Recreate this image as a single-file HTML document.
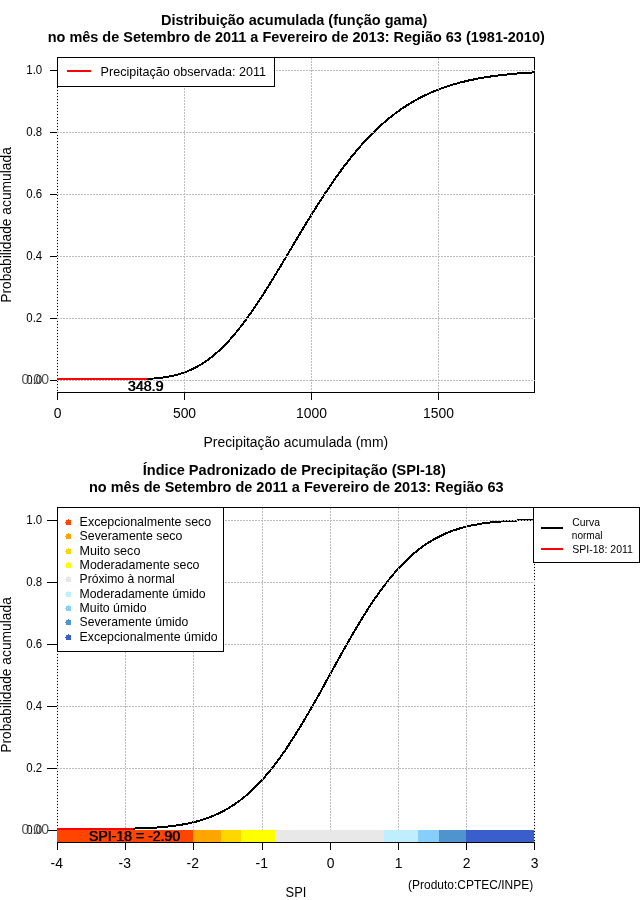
<!DOCTYPE html>
<html><head><meta charset="utf-8"><title>SPI</title>
<style>html,body{margin:0;padding:0;background:#fff}svg{display:block;will-change:transform}text{font-family:"Liberation Sans",sans-serif}</style></head>
<body>
<svg width="640" height="900" viewBox="0 0 640 900" shape-rendering="crispEdges" font-family="'Liberation Sans', sans-serif">
<rect width="640" height="900" fill="#fff"/>
<rect x="57.5" y="57.5" width="477" height="335" fill="none" stroke="#000" stroke-width="1"/>
<polyline points="146.3,379.0 148.7,378.9 151.1,378.7 153.6,378.5 156.0,378.3 158.5,378.1 160.9,377.8 163.4,377.5 165.8,377.1 168.2,376.7 170.7,376.2 173.1,375.7 175.6,375.1 178.0,374.4 180.4,373.7 182.9,372.9 185.3,372.1 187.8,371.1 190.2,370.1 192.7,369.0 195.1,367.7 197.5,366.4 200.0,365.1 202.4,363.6 204.9,362.0 207.3,360.3 209.7,358.5 212.2,356.6 214.6,354.6 217.1,352.4 219.5,350.2 222.0,347.9 224.4,345.5 226.8,342.9 229.3,340.3 231.7,337.6 234.2,334.7 236.6,331.8 239.0,328.8 241.5,325.6 243.9,322.4 246.4,319.1 248.8,315.7 251.3,312.3 253.7,308.7 256.1,305.1 258.6,301.5 261.0,297.7 263.5,293.9 265.9,290.1 268.3,286.2 270.8,282.2 273.2,278.3 275.7,274.3 278.1,270.2 280.6,266.2 283.0,262.1 285.4,258.0 287.9,253.9 290.3,249.8 292.8,245.7 295.2,241.6 297.6,237.5 300.1,233.4 302.5,229.4 305.0,225.3 307.4,221.3 309.9,217.3 312.3,213.4 314.7,209.5 317.2,205.6 319.6,201.8 322.1,198.0 324.5,194.3 327.0,190.6 329.4,187.0 331.8,183.4 334.3,179.9 336.7,176.4 339.2,173.0 341.6,169.7 344.0,166.4 346.5,163.2 348.9,160.1 351.4,157.0 353.8,154.0 356.3,151.1 358.7,148.2 361.1,145.4 363.6,142.7 366.0,140.0 368.5,137.5 370.9,134.9 373.3,132.5 375.8,130.1 378.2,127.8 380.7,125.5 383.1,123.4 385.6,121.2 388.0,119.2 390.4,117.2 392.9,115.3 395.3,113.4 397.8,111.6 400.2,109.9 402.6,108.2 405.1,106.6 407.5,105.0 410.0,103.5 412.4,102.0 414.9,100.6 417.3,99.3 419.7,98.0 422.2,96.7 424.6,95.5 427.1,94.4 429.5,93.2 431.9,92.2 434.4,91.1 436.8,90.2 439.3,89.2 441.7,88.3 444.2,87.4 446.6,86.6 449.0,85.8 451.5,85.0 453.9,84.3 456.4,83.6 458.8,82.9 461.2,82.3 463.7,81.7 466.1,81.1 468.6,80.5 471.0,80.0 473.5,79.5 475.9,79.0 478.3,78.5 480.8,78.1 483.2,77.7 485.7,77.3 488.1,76.9 490.5,76.5 493.0,76.2 495.4,75.9 497.9,75.5 500.3,75.2 502.8,75.0 505.2,74.7 507.6,74.4 510.1,74.2 512.5,74.0 515.0,73.7 517.4,73.5 519.8,73.3 522.3,73.2 524.7,73.0 527.2,72.8 529.6,72.7 532.1,72.5 534.5,72.4" fill="none" stroke="#000" stroke-width="2" stroke-linejoin="round"/>
<line x1="57" x2="535" y1="70.5" y2="70.5" stroke="#bdbdbd" stroke-width="1" stroke-dasharray="2 1"/>
<line x1="57" x2="535" y1="132.5" y2="132.5" stroke="#bdbdbd" stroke-width="1" stroke-dasharray="2 1"/>
<line x1="57" x2="535" y1="194.5" y2="194.5" stroke="#bdbdbd" stroke-width="1" stroke-dasharray="2 1"/>
<line x1="57" x2="535" y1="256.5" y2="256.5" stroke="#bdbdbd" stroke-width="1" stroke-dasharray="2 1"/>
<line x1="57" x2="535" y1="318.5" y2="318.5" stroke="#bdbdbd" stroke-width="1" stroke-dasharray="2 1"/>
<line x1="57" x2="535" y1="380.5" y2="380.5" stroke="#bdbdbd" stroke-width="1" stroke-dasharray="2 1"/>
<line x1="57.5" x2="57.5" y1="58" y2="392" stroke="#e8e8e8" stroke-width="1" stroke-dasharray="2 1"/>
<line x1="184.5" x2="184.5" y1="58" y2="392" stroke="#bdbdbd" stroke-width="1" stroke-dasharray="2 1"/>
<line x1="311.5" x2="311.5" y1="58" y2="392" stroke="#bdbdbd" stroke-width="1" stroke-dasharray="2 1"/>
<line x1="438.5" x2="438.5" y1="58" y2="392" stroke="#bdbdbd" stroke-width="1" stroke-dasharray="2 1"/>
<rect x="50" y="70" width="7" height="1" fill="#000"/>
<rect x="50" y="132" width="7" height="1" fill="#000"/>
<rect x="50" y="194" width="7" height="1" fill="#000"/>
<rect x="50" y="256" width="7" height="1" fill="#000"/>
<rect x="50" y="318" width="7" height="1" fill="#000"/>
<rect x="50" y="380" width="7" height="1" fill="#000"/>
<rect x="57" y="392" width="1" height="8" fill="#000"/>
<rect x="184" y="392" width="1" height="8" fill="#000"/>
<rect x="311" y="392" width="1" height="8" fill="#000"/>
<rect x="438" y="392" width="1" height="8" fill="#000"/>
<text x="26.30" y="74.40" font-size="12.6" font-weight="normal" fill="#000" textLength="15.90" lengthAdjust="spacingAndGlyphs">1.0</text>
<text x="26.30" y="136.40" font-size="12.6" font-weight="normal" fill="#000" textLength="15.90" lengthAdjust="spacingAndGlyphs">0.8</text>
<text x="26.30" y="198.40" font-size="12.6" font-weight="normal" fill="#000" textLength="15.90" lengthAdjust="spacingAndGlyphs">0.6</text>
<text x="26.30" y="260.40" font-size="12.6" font-weight="normal" fill="#000" textLength="15.90" lengthAdjust="spacingAndGlyphs">0.4</text>
<text x="26.30" y="322.40" font-size="12.6" font-weight="normal" fill="#000" textLength="15.90" lengthAdjust="spacingAndGlyphs">0.2</text>
<text x="26.30" y="384.40" font-size="12.6" font-weight="normal" fill="#000" textLength="15.90" lengthAdjust="spacingAndGlyphs">0.0</text>
<text transform="translate(57.50,418.00) scale(0.91,1)" font-size="15.3" font-weight="normal" fill="#000" text-anchor="middle">0</text>
<text transform="translate(184.50,418.00) scale(0.91,1)" font-size="15.3" font-weight="normal" fill="#000" text-anchor="middle">500</text>
<text transform="translate(311.50,418.00) scale(0.91,1)" font-size="15.3" font-weight="normal" fill="#000" text-anchor="middle">1000</text>
<text transform="translate(438.50,418.00) scale(0.91,1)" font-size="15.3" font-weight="normal" fill="#000" text-anchor="middle">1500</text>
<text transform="translate(11.4,302.80) rotate(-90)" font-size="15.3" textLength="155.6" lengthAdjust="spacingAndGlyphs">Probabilidade acumulada</text>
<text x="21.60" y="383.60" font-size="15.3" font-weight="normal" fill="#555" textLength="27.40" lengthAdjust="spacingAndGlyphs">0.00</text>
<rect x="57" y="378" width="90" height="2" fill="#ff0000"/>
<text x="127.60" y="391.20" font-size="15.3" font-weight="normal" fill="#000" textLength="35.60" lengthAdjust="spacingAndGlyphs">348.9</text>
<text x="128.30" y="391.20" font-size="15.3" font-weight="normal" fill="#000" textLength="35.60" lengthAdjust="spacingAndGlyphs">348.9</text>
<rect x="57.5" y="57.5" width="217" height="29" fill="#fff" stroke="#000" stroke-width="1"/>
<rect x="67" y="70" width="24" height="2" fill="#ff0000"/>
<text x="100.60" y="76.20" font-size="12.6" font-weight="normal" fill="#000" textLength="165.40" lengthAdjust="spacingAndGlyphs">Precipitação observada: 2011</text>
<text x="161.00" y="25.20" font-size="15.0" font-weight="bold" fill="#000" textLength="266.30" lengthAdjust="spacingAndGlyphs">Distribuição acumulada (função gama)</text>
<text x="47.70" y="42.00" font-size="15.0" font-weight="bold" fill="#000" textLength="497.10" lengthAdjust="spacingAndGlyphs">no mês de Setembro de 2011 a Fevereiro de 2013: Região 63 (1981-2010)</text>
<text x="203.50" y="447.30" font-size="15.3" font-weight="normal" fill="#000" textLength="184.60" lengthAdjust="spacingAndGlyphs">Precipitação acumulada (mm)</text>
<rect x="57.5" y="507.5" width="477" height="335" fill="none" stroke="#000" stroke-width="1"/>
<polyline points="132.5,828.6 135.3,828.5 138.2,828.4 141.1,828.3 144.0,828.2 146.9,828.1 149.8,827.9 152.7,827.8 155.6,827.6 158.5,827.4 161.4,827.1 164.3,826.9 167.2,826.6 170.1,826.3 173.0,825.9 175.8,825.5 178.7,825.1 181.6,824.7 184.5,824.1 187.4,823.6 190.3,823.0 193.2,822.3 196.1,821.6 199.0,820.8 201.9,819.9 204.8,819.0 207.7,818.0 210.6,816.9 213.4,815.7 216.3,814.5 219.2,813.1 222.1,811.7 225.0,810.1 227.9,808.5 230.8,806.7 233.7,804.9 236.6,802.9 239.5,800.8 242.4,798.5 245.3,796.2 248.2,793.7 251.0,791.1 253.9,788.4 256.8,785.5 259.7,782.5 262.6,779.3 265.5,776.0 268.4,772.6 271.3,769.1 274.2,765.4 277.1,761.6 280.0,757.7 282.9,753.6 285.8,749.4 288.6,745.1 291.5,740.7 294.4,736.2 297.3,731.5 300.2,726.8 303.1,722.0 306.0,717.1 308.9,712.2 311.8,707.2 314.7,702.1 317.6,696.9 320.5,691.8 323.4,686.6 326.2,681.3 329.1,676.1 332.0,670.8 334.9,665.6 337.8,660.4 340.7,655.2 343.6,650.0 346.5,644.9 349.4,639.9 352.3,634.8 355.2,629.9 358.1,625.1 361.0,620.3 363.8,615.6 366.7,611.0 369.6,606.5 372.5,602.2 375.4,597.9 378.3,593.7 381.2,589.7 384.1,585.8 387.0,582.1 389.9,578.4 392.8,574.9 395.7,571.6 398.6,568.3 401.4,565.2 404.3,562.3 407.2,559.5 410.1,556.8 413.0,554.2 415.9,551.8 418.8,549.5 421.7,547.3 424.6,545.2 427.5,543.3 430.4,541.4 433.3,539.7 436.2,538.1 439.1,536.6 441.9,535.2 444.8,533.9 447.7,532.6 450.6,531.5 453.5,530.4 456.4,529.5 459.3,528.6 462.2,527.7 465.1,527.0 468.0,526.3 470.9,525.6 473.8,525.0 476.7,524.5 479.5,524.0 482.4,523.5 485.3,523.1 488.2,522.7 491.1,522.4 494.0,522.1 496.9,521.8 499.8,521.6 502.7,521.4 505.6,521.1 508.5,521.0 511.4,520.8 514.3,520.7 517.1,520.5 520.0,520.4 522.9,520.3 525.8,520.2 528.7,520.2 531.6,520.1 534.5,520.0" fill="none" stroke="#000" stroke-width="2" stroke-linejoin="round"/>
<line x1="57" x2="535" y1="520.5" y2="520.5" stroke="#bdbdbd" stroke-width="1" stroke-dasharray="2 1"/>
<line x1="57" x2="535" y1="582.5" y2="582.5" stroke="#bdbdbd" stroke-width="1" stroke-dasharray="2 1"/>
<line x1="57" x2="535" y1="644.5" y2="644.5" stroke="#bdbdbd" stroke-width="1" stroke-dasharray="2 1"/>
<line x1="57" x2="535" y1="706.5" y2="706.5" stroke="#bdbdbd" stroke-width="1" stroke-dasharray="2 1"/>
<line x1="57" x2="535" y1="768.5" y2="768.5" stroke="#bdbdbd" stroke-width="1" stroke-dasharray="2 1"/>
<line x1="57" x2="535" y1="830.5" y2="830.5" stroke="#bdbdbd" stroke-width="1" stroke-dasharray="2 1"/>
<line x1="57.5" x2="57.5" y1="508" y2="842" stroke="#e8e8e8" stroke-width="1" stroke-dasharray="2 1"/>
<line x1="125.5" x2="125.5" y1="508" y2="842" stroke="#bdbdbd" stroke-width="1" stroke-dasharray="2 1"/>
<line x1="193.5" x2="193.5" y1="508" y2="842" stroke="#bdbdbd" stroke-width="1" stroke-dasharray="2 1"/>
<line x1="262.5" x2="262.5" y1="508" y2="842" stroke="#bdbdbd" stroke-width="1" stroke-dasharray="2 1"/>
<line x1="330.5" x2="330.5" y1="508" y2="842" stroke="#bdbdbd" stroke-width="1" stroke-dasharray="2 1"/>
<line x1="398.5" x2="398.5" y1="508" y2="842" stroke="#bdbdbd" stroke-width="1" stroke-dasharray="2 1"/>
<line x1="466.5" x2="466.5" y1="508" y2="842" stroke="#bdbdbd" stroke-width="1" stroke-dasharray="2 1"/>
<line x1="534.5" x2="534.5" y1="508" y2="842" stroke="#e8e8e8" stroke-width="1" stroke-dasharray="2 1"/>
<rect x="47" y="520" width="10" height="1" fill="#000"/>
<rect x="47" y="582" width="10" height="1" fill="#000"/>
<rect x="47" y="644" width="10" height="1" fill="#000"/>
<rect x="47" y="706" width="10" height="1" fill="#000"/>
<rect x="47" y="768" width="10" height="1" fill="#000"/>
<rect x="47" y="830" width="10" height="1" fill="#000"/>
<rect x="57" y="842" width="1" height="8" fill="#000"/>
<rect x="125" y="842" width="1" height="8" fill="#000"/>
<rect x="193" y="842" width="1" height="8" fill="#000"/>
<rect x="262" y="842" width="1" height="8" fill="#000"/>
<rect x="330" y="842" width="1" height="8" fill="#000"/>
<rect x="398" y="842" width="1" height="8" fill="#000"/>
<rect x="466" y="842" width="1" height="8" fill="#000"/>
<rect x="534" y="842" width="1" height="8" fill="#000"/>
<text x="26.30" y="524.40" font-size="12.6" font-weight="normal" fill="#000" textLength="15.90" lengthAdjust="spacingAndGlyphs">1.0</text>
<text x="26.30" y="586.40" font-size="12.6" font-weight="normal" fill="#000" textLength="15.90" lengthAdjust="spacingAndGlyphs">0.8</text>
<text x="26.30" y="648.40" font-size="12.6" font-weight="normal" fill="#000" textLength="15.90" lengthAdjust="spacingAndGlyphs">0.6</text>
<text x="26.30" y="710.40" font-size="12.6" font-weight="normal" fill="#000" textLength="15.90" lengthAdjust="spacingAndGlyphs">0.4</text>
<text x="26.30" y="772.40" font-size="12.6" font-weight="normal" fill="#000" textLength="15.90" lengthAdjust="spacingAndGlyphs">0.2</text>
<text x="26.30" y="834.40" font-size="12.6" font-weight="normal" fill="#000" textLength="15.90" lengthAdjust="spacingAndGlyphs">0.0</text>
<text transform="translate(56.70,868.00) scale(0.91,1)" font-size="15.3" font-weight="normal" fill="#000" text-anchor="middle">-4</text>
<text transform="translate(124.70,868.00) scale(0.91,1)" font-size="15.3" font-weight="normal" fill="#000" text-anchor="middle">-3</text>
<text transform="translate(192.70,868.00) scale(0.91,1)" font-size="15.3" font-weight="normal" fill="#000" text-anchor="middle">-2</text>
<text transform="translate(261.70,868.00) scale(0.91,1)" font-size="15.3" font-weight="normal" fill="#000" text-anchor="middle">-1</text>
<text transform="translate(330.50,868.00) scale(0.91,1)" font-size="15.3" font-weight="normal" fill="#000" text-anchor="middle">0</text>
<text transform="translate(398.50,868.00) scale(0.91,1)" font-size="15.3" font-weight="normal" fill="#000" text-anchor="middle">1</text>
<text transform="translate(466.50,868.00) scale(0.91,1)" font-size="15.3" font-weight="normal" fill="#000" text-anchor="middle">2</text>
<text transform="translate(534.50,868.00) scale(0.91,1)" font-size="15.3" font-weight="normal" fill="#000" text-anchor="middle">3</text>
<text transform="translate(11.4,752.80) rotate(-90)" font-size="15.3" textLength="155.6" lengthAdjust="spacingAndGlyphs">Probabilidade acumulada</text>
<text x="21.60" y="833.60" font-size="15.3" font-weight="normal" fill="#555" textLength="27.40" lengthAdjust="spacingAndGlyphs">0.00</text>
<rect x="57" y="830" width="136" height="12" fill="#ff4500"/>
<rect x="193" y="830" width="28" height="12" fill="#ffa500"/>
<rect x="221" y="830" width="20" height="12" fill="#ffd700"/>
<rect x="241" y="830" width="34" height="12" fill="#ffff00"/>
<rect x="275" y="830" width="109" height="12" fill="#e8e8e8"/>
<rect x="384" y="830" width="34" height="12" fill="#bfefff"/>
<rect x="418" y="830" width="21" height="12" fill="#87cefa"/>
<rect x="439" y="830" width="27" height="12" fill="#4f94cd"/>
<rect x="466" y="830" width="68" height="12" fill="#3a5fcd"/>
<rect x="57" y="842" width="478" height="1" fill="#000"/>
<rect x="57" y="828" width="76" height="2" fill="#ff0000"/>
<text x="88.60" y="840.90" font-size="15.3" font-weight="normal" fill="#000" textLength="91.20" lengthAdjust="spacingAndGlyphs">SPI-18 = -2.90</text>
<text x="89.30" y="840.90" font-size="15.3" font-weight="normal" fill="#000" textLength="91.20" lengthAdjust="spacingAndGlyphs">SPI-18 = -2.90</text>
<rect x="57.5" y="507.5" width="166" height="144" fill="#fff" stroke="#000" stroke-width="1"/>
<rect x="66" y="520" width="5" height="5" fill="#ff4500"/>
<rect x="68" y="519" width="1" height="1" fill="#ff4500"/>
<rect x="65" y="522" width="1" height="1" fill="#ff4500"/>
<text x="79.60" y="526.00" font-size="12.6" font-weight="normal" fill="#000" textLength="131.70" lengthAdjust="spacingAndGlyphs">Excepcionalmente seco</text>
<rect x="66" y="534" width="5" height="5" fill="#ffa500"/>
<rect x="68" y="533" width="1" height="1" fill="#ffa500"/>
<rect x="65" y="536" width="1" height="1" fill="#ffa500"/>
<text x="79.60" y="540.35" font-size="12.6" font-weight="normal" fill="#000" textLength="102.70" lengthAdjust="spacingAndGlyphs">Severamente seco</text>
<rect x="66" y="549" width="5" height="5" fill="#ffd700"/>
<rect x="68" y="548" width="1" height="1" fill="#ffd700"/>
<rect x="65" y="551" width="1" height="1" fill="#ffd700"/>
<text x="79.60" y="554.70" font-size="12.6" font-weight="normal" fill="#000" textLength="60.80" lengthAdjust="spacingAndGlyphs">Muito seco</text>
<rect x="66" y="563" width="5" height="5" fill="#ffff00"/>
<rect x="68" y="562" width="1" height="1" fill="#ffff00"/>
<rect x="65" y="565" width="1" height="1" fill="#ffff00"/>
<text x="79.60" y="569.05" font-size="12.6" font-weight="normal" fill="#000" textLength="119.90" lengthAdjust="spacingAndGlyphs">Moderadamente seco</text>
<rect x="66" y="577" width="5" height="5" fill="#e8e8e8"/>
<rect x="68" y="576" width="1" height="1" fill="#e8e8e8"/>
<rect x="65" y="579" width="1" height="1" fill="#e8e8e8"/>
<text x="79.60" y="583.40" font-size="12.6" font-weight="normal" fill="#000" textLength="95.10" lengthAdjust="spacingAndGlyphs">Próximo à normal</text>
<rect x="66" y="592" width="5" height="5" fill="#bfefff"/>
<rect x="68" y="591" width="1" height="1" fill="#bfefff"/>
<rect x="65" y="594" width="1" height="1" fill="#bfefff"/>
<text x="79.60" y="597.75" font-size="12.6" font-weight="normal" fill="#000" textLength="126.00" lengthAdjust="spacingAndGlyphs">Moderadamente úmido</text>
<rect x="66" y="606" width="5" height="5" fill="#87cefa"/>
<rect x="68" y="605" width="1" height="1" fill="#87cefa"/>
<rect x="65" y="608" width="1" height="1" fill="#87cefa"/>
<text x="79.60" y="612.10" font-size="12.6" font-weight="normal" fill="#000" textLength="67.00" lengthAdjust="spacingAndGlyphs">Muito úmido</text>
<rect x="66" y="620" width="5" height="5" fill="#4f94cd"/>
<rect x="68" y="619" width="1" height="1" fill="#4f94cd"/>
<rect x="65" y="622" width="1" height="1" fill="#4f94cd"/>
<text x="79.60" y="626.45" font-size="12.6" font-weight="normal" fill="#000" textLength="108.60" lengthAdjust="spacingAndGlyphs">Severamente úmido</text>
<rect x="66" y="635" width="5" height="5" fill="#3a5fcd"/>
<rect x="68" y="634" width="1" height="1" fill="#3a5fcd"/>
<rect x="65" y="637" width="1" height="1" fill="#3a5fcd"/>
<text x="79.60" y="640.80" font-size="12.6" font-weight="normal" fill="#000" textLength="138.10" lengthAdjust="spacingAndGlyphs">Excepcionalmente úmido</text>
<rect x="533.5" y="507.5" width="106" height="55" fill="#fff" stroke="#000" stroke-width="1"/>
<rect x="541" y="527" width="22" height="2" fill="#000"/>
<rect x="541" y="548" width="22" height="2" fill="#ff0000"/>
<text x="572.30" y="525.90" font-size="11.0" font-weight="normal" fill="#000" textLength="27.70" lengthAdjust="spacingAndGlyphs">Curva</text>
<text x="571.80" y="539.00" font-size="11.0" font-weight="normal" fill="#000" textLength="30.70" lengthAdjust="spacingAndGlyphs">normal</text>
<text x="572.30" y="552.50" font-size="11.0" font-weight="normal" fill="#000" textLength="60.60" lengthAdjust="spacingAndGlyphs">SPI-18: 2011</text>
<text x="142.80" y="475.20" font-size="15.0" font-weight="bold" fill="#000" textLength="303.00" lengthAdjust="spacingAndGlyphs">Índice Padronizado de Precipitação (SPI-18)</text>
<text x="89.00" y="492.00" font-size="15.0" font-weight="bold" fill="#000" textLength="414.50" lengthAdjust="spacingAndGlyphs">no mês de Setembro de 2011 a Fevereiro de 2013: Região 63</text>
<text x="285.60" y="897.00" font-size="15.3" font-weight="normal" fill="#000" textLength="20.80" lengthAdjust="spacingAndGlyphs">SPI</text>
<text x="408.00" y="889.20" font-size="12.6" font-weight="normal" fill="#000" textLength="125.20" lengthAdjust="spacingAndGlyphs">(Produto:CPTEC/INPE)</text>
</svg>
</body></html>
